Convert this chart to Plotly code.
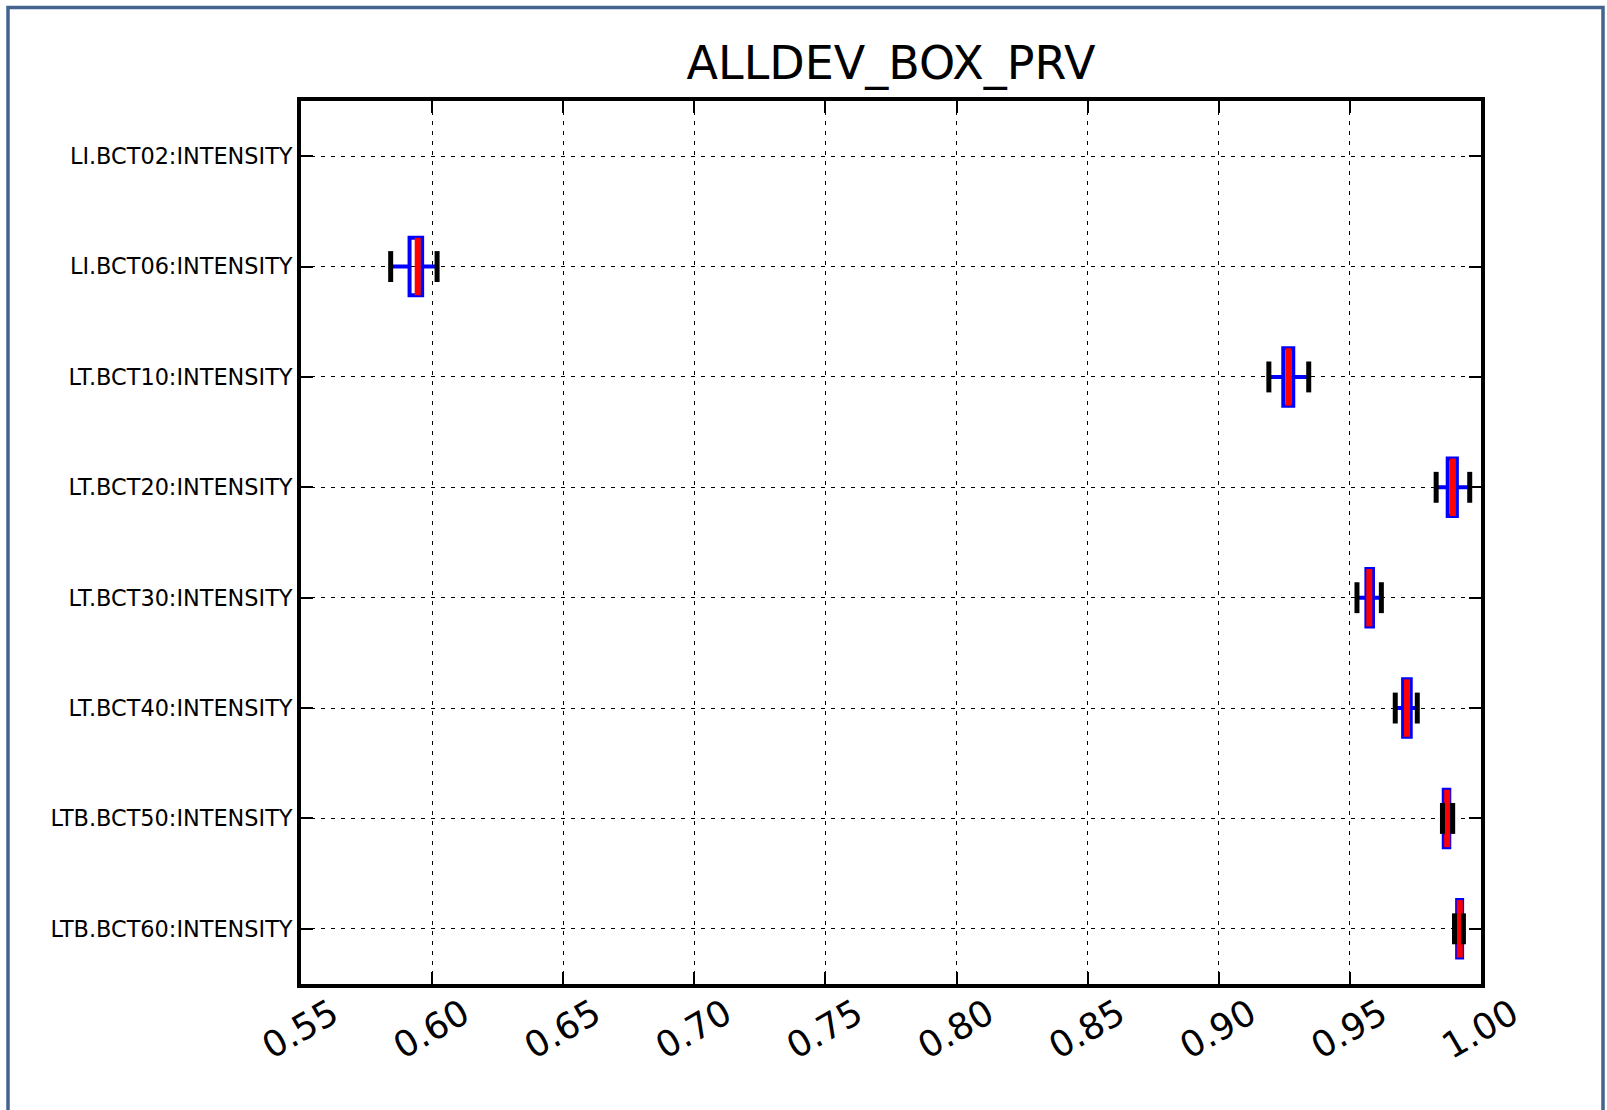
import plotly.graph_objects as go

# ---- data ----
categories = [
    "LI.BCT02:INTENSITY",
    "LI.BCT06:INTENSITY",
    "LT.BCT10:INTENSITY",
    "LT.BCT20:INTENSITY",
    "LT.BCT30:INTENSITY",
    "LT.BCT40:INTENSITY",
    "LTB.BCT50:INTENSITY",
    "LTB.BCT60:INTENSITY",
]
# devices that have data (LI.BCT02 is empty)
box_devices = categories[1:]
whislo = [0.5842, 0.9191, 0.9829, 0.9527, 0.9673, 0.9853, 0.9899]
q1 = [0.5914, 0.9246, 0.9873, 0.9563, 0.9703, 0.9858, 0.9909]
median = [0.5945, 0.9265, 0.9893, 0.9574, 0.9718, 0.9871, 0.9919]
q3 = [0.5962, 0.9284, 0.9908, 0.9588, 0.9732, 0.9879, 0.9928]
whishi = [0.6019, 0.9343, 0.9957, 0.9620, 0.9757, 0.9892, 0.9933]
x_ticks = [0.55, 0.60, 0.65, 0.70, 0.75, 0.80, 0.85, 0.90, 0.95, 1.00]
title = "ALLDEV_BOX_PRV"

FONT = "DejaVu Sans"
BOX_W = 0.52
CAP_W = 0.28

pos = [categories.index(d) for d in box_devices]

fig = go.Figure()

fig.add_trace(go.Box(
    y=pos, q1=q1, median=median, q3=q3,
    lowerfence=whislo, upperfence=whishi,
    orientation="h", width=BOX_W, whiskerwidth=0,
    line=dict(color="#0000ff", width=4),
    fillcolor="rgba(0,0,0,0)", boxpoints=False,
    hoverinfo="skip", showlegend=False,
))


def seg(xs, half):
    X, Y = [], []
    for xv, p in zip(xs, pos):
        X += [xv, xv, None]
        Y += [p - half, p + half, None]
    return X, Y


mx, my = seg(median, BOX_W / 2)
fig.add_trace(go.Scatter(x=mx, y=my, mode="lines",
                         line=dict(color="#ff0000", width=6),
                         hoverinfo="skip", showlegend=False))
cx1, cy1 = seg(whislo, CAP_W / 2)
cx2, cy2 = seg(whishi, CAP_W / 2)
fig.add_trace(go.Scatter(x=cx1 + cx2, y=cy1 + cy2, mode="lines",
                         line=dict(color="#000000", width=5),
                         hoverinfo="skip", showlegend=False))

L, R, T, B = 301, 1481, 101, 984
W, H = 1607, 1110
pw, ph = R - L, B - T


def px(x):
    return (x - L) / pw


def py(y):
    return 1 - (y - T) / ph


fig.add_shape(type="rect", xref="paper", yref="paper",
              x0=px(8), x1=px(1603), y0=py(1118), y1=py(7.5),
              line=dict(color="#44648f", width=3.5), layer="below")

axis_common = dict(
    showline=True, linecolor="black", linewidth=4, mirror="allticks",
    ticks="inside", ticklen=12, tickwidth=1.5, tickcolor="black",
    showgrid=True, gridcolor="black", gridwidth=1, griddash="4px,6px",
    zeroline=False,
)

fig.update_layout(
    width=W, height=H,
    margin=dict(l=L, r=W - R, t=T, b=H - B, pad=0),
    paper_bgcolor="white", plot_bgcolor="white",
    font=dict(family=FONT, color="black"),
    title=dict(text=title, x=0.5, xref="paper", xanchor="center",
               y=1 - 63 / H, yref="container", yanchor="middle",
               font=dict(size=46, family=FONT, color="black")),
    xaxis=dict(range=[0.55, 1.0], tickvals=x_ticks,
               ticktext=[f"{v:.2f}" for v in x_ticks],
               tickangle=-30, tickfont=dict(size=36, family=FONT),
               **axis_common),
    yaxis=dict(range=[len(categories) - 0.5, -0.5], type="linear",
               tickvals=list(range(len(categories))), ticktext=categories,
               tickfont=dict(size=22.4, family=FONT),
               **axis_common),
)

try:
    fig.update_xaxes(ticklabelshift=31)
except Exception:
    pass
try:
    fig.update_xaxes(ticklabelstandoff=-9)
except Exception:
    pass

fig.write_html("out.html", config={"displayModeBar": False},
               post_script="document.body.style.margin='0';document.body.style.overflow='hidden';")
